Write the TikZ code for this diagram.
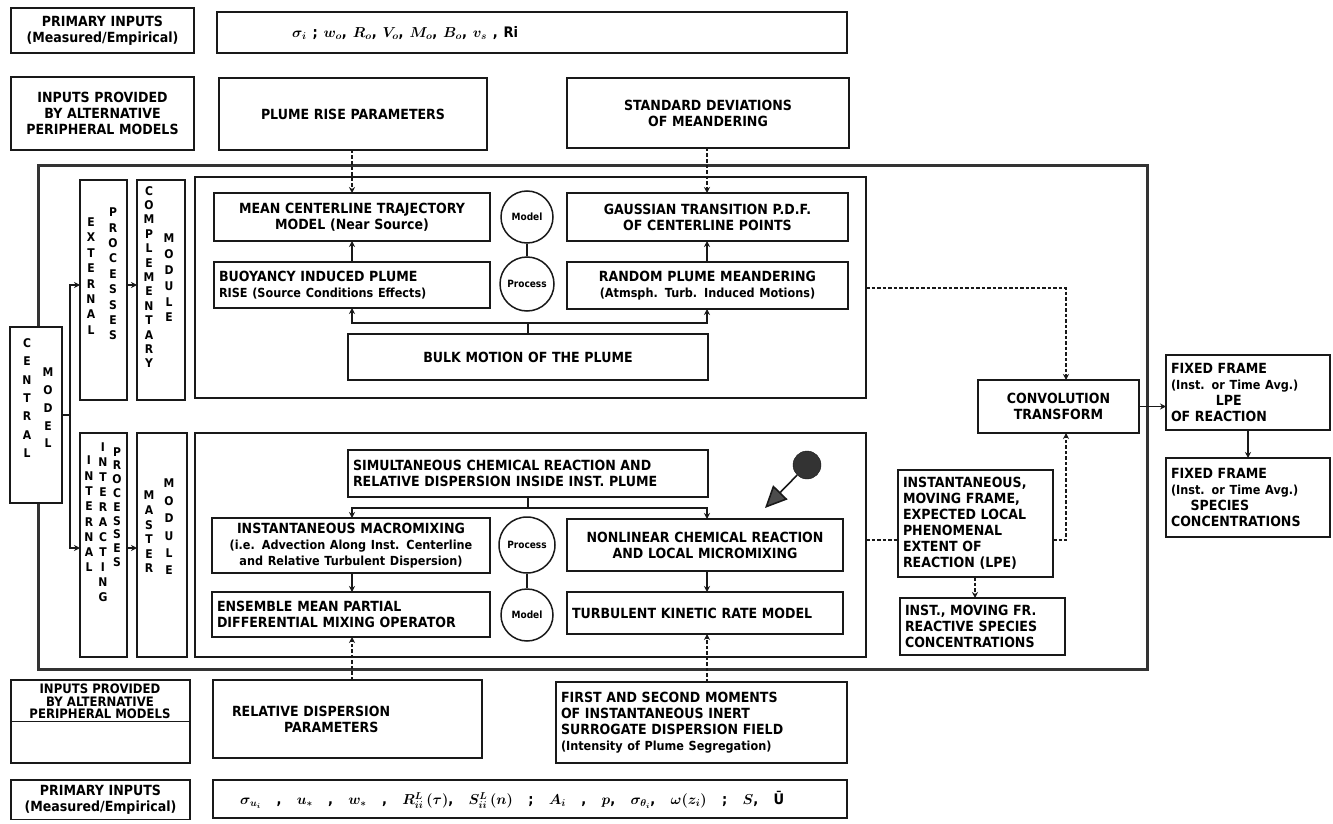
\documentclass[tikz,border=0pt]{standalone}
\usepackage{fontspec}
\setmainfont{DejaVu Sans}[FakeStretch=0.9]
\usetikzlibrary{arrows.meta}
\definecolor{ink}{gray}{0.1}
\newcommand\boxfont{\bfseries\fontsize{14}{16}\selectfont}
\newcommand\lcfont{\bfseries\fontsize{12.5}{15}\selectfont}
\newcommand\formfont{\bfseries\boldmath\fontsize{14.5}{16}\selectfont}
\newcommand\vlet[1]{\bfseries\fontsize{12}{#1}\selectfont}
% name, x1, y1, x2, y2, style, text
\newcommand\putbox[7]{\node[#6,anchor=north west,minimum width={(#4-#2)*1pt},minimum height={(#5-#3)*1pt},text width={(#4-#2)*1pt-10pt}] (#1) at (#2,#3) {#7};}
\newcommand\topform{\hbox to 226pt{$\sigma_{i}$\hfill;\hfill$w_o$,\hfill$R_o$,\hfill$V_o$,\hfill$M_o$,\hfill$B_o$,\hfill$v_s$\hfill,\hfill Ri}}
\newcommand\botform{\hbox to 544pt{$\sigma_{u_i}$\hfill,\hfill$u_*$\hfill,\hfill$w_*$\hfill,\hfill$R^{L}_{ii}\,(\tau)$,\hfill$S^{L}_{ii}\,(n)$\hfill;\hfill$A_i$\hfill,\hfill$p$,\hfill$\sigma_{\theta_i}$,\hfill$\omega(z_i)$\hfill;\hfill$S$,\hfill Ū}}

\begin{document}
\begin{tikzpicture}[x=1pt,y=-1pt,
  frm/.style={draw=ink,line width=1.6pt,inner sep=0pt,outer sep=0pt},
  box/.style={draw=ink,line width=1.5pt,fill=white,inner sep=5pt,outer sep=0pt,align=center,font=\boxfont},
  lbox/.style={box,align=left},
  vcol/.style={inner sep=0pt,align=center},
  circ/.style={circle,draw=ink,line width=1.5pt,inner sep=0pt,fill=white,font=\bfseries\fontsize{10}{11}\selectfont},
  ln/.style={draw=ink,line width=1.3pt},
  arr/.style={ln,-{Stealth[length=6pt,width=6pt]}},
  dsh/.style={arr,dash pattern=on 3.5pt off 2pt},
]
\useasboundingbox (0,0) rectangle (1333,824);
\fill[white] (0,0) rectangle (1333,824);

% ---------- inputs above the model ----------
\putbox{pi1}{11}{8}{194}{53}{box}{PRIMARY INPUTS\\(Measured/Empirical)}
\putbox{f1}{217}{12}{847}{53}{box}{}
\node[anchor=west,inner sep=0pt,font=\formfont] (f1t) at (292,33) {\topform};
\putbox{ip1}{11}{77}{194}{150}{box}{INPUTS PROVIDED\\BY ALTERNATIVE\\PERIPHERAL MODELS}
\putbox{pr}{219}{78}{487}{150}{box}{PLUME RISE PARAMETERS}
\putbox{sd}{567}{78}{849}{148}{box}{STANDARD DEVIATIONS\\OF MEANDERING}

% ---------- central model frame ----------
\putbox{outer}{38}{165}{1147}{669}{frm,line width=3pt,draw=black!80}{}
\putbox{cen}{10}{327}{62}{503}{box}{}
\node[vcol,font=\vlet{18.3}] (cenA) at (27,398) {C\\E\\N\\T\\R\\A\\L};
\node[vcol,font=\vlet{17.8}] (cenB) at (48,408) {M\\O\\D\\E\\L};

\putbox{ext}{80}{180}{127}{400}{box}{}
\node[vcol,font=\vlet{15.4}] (extA) at (91,276) {E\\X\\T\\E\\R\\N\\A\\L};
\node[vcol,font=\vlet{15.4}] (extB) at (113,274) {P\\R\\O\\C\\E\\S\\S\\E\\S};
\putbox{comp}{137}{180}{185}{400}{box}{}
\node[vcol,font=\vlet{14.4}] (compA) at (149,277) {C\\O\\M\\P\\L\\E\\M\\E\\N\\T\\A\\R\\Y};
\node[vcol,font=\vlet{15.8}] (compB) at (169,278) {M\\O\\D\\U\\L\\E};

\putbox{int}{80}{433}{127}{657}{box}{}
\node[vcol,font=\vlet{15.3}] (intA) at (89,514) {I\\N\\T\\E\\R\\N\\A\\L};
\node[vcol,font=\vlet{15}] (intB) at (103,522) {I\\N\\T\\E\\R\\A\\C\\T\\I\\N\\G};
\node[vcol,font=\vlet{13.8}] (intC) at (117,507) {P\\R\\O\\C\\E\\S\\S\\E\\S};
\putbox{mast}{137}{433}{187}{657}{box}{}
\node[vcol,font=\vlet{14.6}] (mastA) at (149,532) {M\\A\\S\\T\\E\\R};
\node[vcol,font=\vlet{17.4}] (mastB) at (169,527) {M\\O\\D\\U\\L\\E};

% ---------- complementary module: plume motion ----------
\putbox{upin}{195}{177}{866}{398}{frm}{}
\putbox{mean}{214}{193}{490}{241}{box}{MEAN CENTERLINE TRAJECTORY\\MODEL (Near Source)}
\putbox{buoy}{214}{262}{490}{308}{lbox}{BUOYANCY INDUCED PLUME\\{\lcfont RISE (Source Conditions Effects)}}
\putbox{gaus}{567}{193}{848}{241}{box}{GAUSSIAN TRANSITION P.D.F.\\OF CENTERLINE POINTS}
\putbox{rand}{567}{262}{848}{309}{box}{RANDOM PLUME MEANDERING\\{\lcfont(Atmsph. Turb. Induced Motions)}}
\putbox{bulk}{348}{334}{708}{380}{box}{BULK MOTION OF THE PLUME}
\node[circ,minimum size=52pt] (modU) at (527,217) {Model};
\node[circ,minimum size=54pt] (proU) at (527,284) {Process};
\draw[ln] (modU.south) -- (proU.north);

% ---------- master module: reaction and mixing ----------
\putbox{loin}{195}{433}{866}{657}{frm}{}
\putbox{sim}{348}{450}{708}{497}{lbox}{SIMULTANEOUS CHEMICAL REACTION AND\\RELATIVE DISPERSION INSIDE INST. PLUME}
\putbox{inst}{212}{518}{490}{573}{box}{INSTANTANEOUS MACROMIXING\\{\lcfont(i.e. Advection Along Inst. Centerline}\\{\lcfont and Relative Turbulent Dispersion)}}
\putbox{nonl}{567}{519}{843}{571}{box}{NONLINEAR CHEMICAL REACTION\\AND LOCAL MICROMIXING}
\putbox{ens}{212}{592}{490}{637}{lbox}{ENSEMBLE MEAN PARTIAL\\DIFFERENTIAL MIXING OPERATOR}
\putbox{turb}{567}{592}{843}{634}{lbox}{TURBULENT KINETIC RATE MODEL}
\node[circ,minimum size=56pt] (proL) at (527,545) {Process};
\node[circ,minimum size=52pt] (modL) at (527,615) {Model};
\draw[ln] (proL.south) -- (modL.north);

\node[circle,fill=black!80,draw=ink,minimum size=28pt,inner sep=0pt] (ball) at (807,465) {};
\coordinate (tip) at (765,508);
\draw[ln,line width=1.6pt,-{Triangle[length=22pt,width=20pt,fill=black!70]}] (ball) -- (tip);

% ---------- right-hand chain ----------
\putbox{conv}{978}{380}{1139}{433}{box}{CONVOLUTION\\TRANSFORM}
\putbox{lpe}{1166}{355}{1330}{430}{lbox}{FIXED FRAME\\{\lcfont(Inst. or Time Avg.)}\\\hspace*{3.2em}LPE\\OF REACTION}
\putbox{spec}{1166}{458}{1330}{537}{lbox}{FIXED FRAME\\{\lcfont(Inst. or Time Avg.)}\\\hspace*{1.4em}SPECIES\\CONCENTRATIONS}
\putbox{imf}{898}{470}{1053}{577}{lbox}{INSTANTANEOUS,\\MOVING FRAME,\\EXPECTED LOCAL\\PHENOMENAL\\EXTENT OF\\REACTION (LPE)}
\putbox{ifr}{900}{598}{1065}{655}{lbox}{INST., MOVING FR.\\REACTIVE SPECIES\\CONCENTRATIONS}

% ---------- inputs below the model ----------
\putbox{ip2}{11}{680}{190}{763}{box}{}
\node[anchor=north,inner sep=0pt,align=center,font=\bfseries\fontsize{13}{12.5}\selectfont] (ip2t) at (100,684) {INPUTS PROVIDED\\BY ALTERNATIVE\\PERIPHERAL MODELS};
\coordinate (ul) at (0,721);
\draw[ln,line width=1pt] (ip2.west |- ul) -- (ip2.east |- ul);
\putbox{rd}{213}{680}{482}{758}{lbox}{\hspace*{14pt}RELATIVE DISPERSION\\\hspace*{66pt}PARAMETERS}
\putbox{fs}{556}{682}{847}{763}{lbox}{FIRST AND SECOND MOMENTS\\OF INSTANTANEOUS INERT\\SURROGATE DISPERSION FIELD\\{\lcfont(Intensity of Plume Segregation)}}
\putbox{pi2}{11}{780}{190}{818}{box}{PRIMARY INPUTS\\(Measured/Empirical)}
\putbox{f2}{213}{780}{847}{818}{box}{}
\node[anchor=west,inner sep=0pt,font=\formfont] (f2t) at (240,800) {\botform};

% ---------- connectors ----------
\coordinate (cl) at (352,0);
\coordinate (cr) at (707,0);
\coordinate (jU) at (528,323);
\coordinate (jL) at (528,508);
\draw[dsh] (pr.south -| cl) -- (mean.north -| cl);
\draw[dsh] (sd.south -| cr) -- (gaus.north -| cr);
\draw[ln] (bulk.north) -- (jU);
\draw[arr] (jU) -| (buoy.south -| cl);
\draw[arr] (jU) -| (rand.south -| cr);
\draw[arr] (buoy.north -| cl) -- (mean.south -| cl);
\draw[arr] (rand.north -| cr) -- (gaus.south -| cr);

\draw[ln] (sim.south) -- (jL);
\draw[arr] (jL) -| (inst.north -| cl);
\draw[arr] (jL) -| (nonl.north -| cr);
\draw[arr] (inst.south -| cl) -- (ens.north -| cl);
\draw[arr] (nonl.south -| cr) -- (turb.north -| cr);
\draw[dsh] (rd.north -| cl) -- (ens.south -| cl);
\draw[dsh] (fs.north -| cr) -- (turb.south -| cr);

\coordinate (bx) at (70,415);
\coordinate (ya) at (0,285);
\coordinate (yb) at (0,548);
\draw[ln] (cen.east |- bx) -- (bx);
\draw[arr] (bx) |- (ext.west |- ya);
\draw[arr] (bx) |- (int.west |- yb);
\draw[arr] (ext.east |- ya) -- (comp.west |- ya);
\draw[arr] (int.east |- yb) -- (mast.west |- yb);

\coordinate (xd) at (1066,0);
\coordinate (yd) at (0,288);
\coordinate (ye) at (0,540);
\coordinate (xf) at (975,0);
\draw[dsh] (upin.east |- yd) -| (conv.north -| xd);
\draw[ln,dash pattern=on 3.5pt off 2pt] (loin.east |- ye) -- (imf.west |- ye);
\draw[dsh] (imf.east |- ye) -| (conv.south -| xd);
\draw[dsh] (imf.south -| xf) -- (ifr.north -| xf);
\draw[arr] (conv.east) -- (lpe.west |- conv.east);
\draw[arr] (lpe.south) -- (spec.north);
\end{tikzpicture}
\end{document}
